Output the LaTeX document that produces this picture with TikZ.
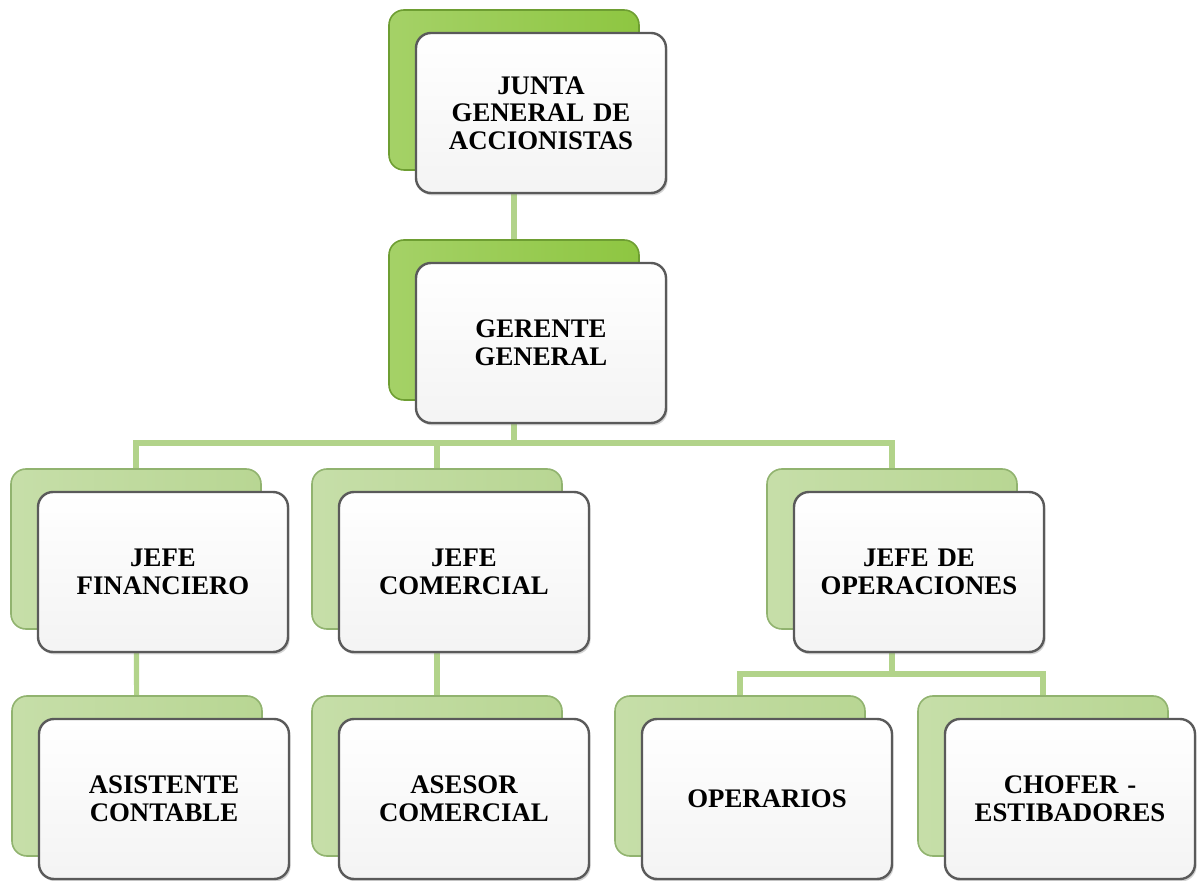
\documentclass[tikz,border=0pt]{standalone}
\usepackage{fontspec}
\setmainfont{Liberation Serif}
\usetikzlibrary{shadows}
\definecolor{conncol}{HTML}{B2D38A}
\definecolor{gstrong}{HTML}{8EC641}
\definecolor{gstrongline}{HTML}{6E9E32}
\definecolor{gsoft}{HTML}{B8D693}
\definecolor{gsoftline}{HTML}{91B36F}
\definecolor{boxline}{HTML}{5A5A5A}
\pgfdeclarelayer{bg}
\pgfsetlayers{bg,main}
\begin{document}
\begin{tikzpicture}[x=0.5pt,y=-0.5pt,
  backbase/.style={rectangle, rounded corners=7.5pt, minimum width=125pt, minimum height=80pt, line width=0.8pt, inner sep=0pt},
  backstrong/.style={backbase, draw=gstrongline, left color=gstrong!80!white, right color=gstrong},
  backsoft/.style={backbase, draw=gsoftline, left color=gsoft!80!white, right color=gsoft},
  frontbox/.style={rectangle, rounded corners=7.5pt, minimum width=125pt, minimum height=80pt,
    draw=boxline, line width=1.2pt, top color=white, bottom color=gray!9,
    drop shadow={shadow xshift=0.8pt, shadow yshift=-1.2pt, opacity=0.35},
    align=center, text width=118pt, font=\fontsize{13.4}{13.8}\selectfont\bfseries},
  conn/.style={draw=conncol, line width=2.6pt}]
\useasboundingbox (0,0) rectangle (1200,881);
% back (green) boxes
\node[backstrong] (jgB)  at (514,90)  {};
\node[backstrong] (ggB)  at (514,320) {};
\node[backsoft]   (jfB)  at (136,549) {};
\node[backsoft]   (jcB)  at (437,549) {};
\node[backsoft]   (joB)  at (892,549) {};
\node[backsoft]   (asB)  at (137,776) {};
\node[backsoft]   (aseB) at (437,776) {};
\node[backsoft]   (opB)  at (740,776) {};
\node[backsoft]   (chB)  at (1043,776) {};
% front boxes
\node[frontbox] (jg)  at (541,113)  {JUNTA\\GENERAL DE\\ACCIONISTAS};
\node[frontbox] (gg)  at (541,343)  {GERENTE\\GENERAL};
\node[frontbox] (jf)  at (163,572)  {JEFE\\FINANCIERO};
\node[frontbox] (jc)  at (464,572)  {JEFE\\COMERCIAL};
\node[frontbox] (jo)  at (919,572)  {JEFE DE\\OPERACIONES};
\node[frontbox] (as)  at (164,799)  {ASISTENTE\\CONTABLE};
\node[frontbox] (ase) at (464,799)  {ASESOR\\COMERCIAL};
\node[frontbox] (op)  at (767,799)  {OPERARIOS};
\node[frontbox] (ch)  at (1070,799) {CHOFER -\\ESTIBADORES};
% connectors
\coordinate (bus1) at (514,443);
\coordinate (bus2) at (892,674);
\begin{pgfonlayer}{bg}
\draw[conn] (jgB.center) -- (ggB.center);
\draw[conn] (ggB.center) -- (bus1);
\draw[conn] (jfB.center) |- (bus1) -| (joB.center);
\draw[conn] (jcB.center) -- (jcB.center |- bus1);
\draw[conn] (jfB.center) -- (asB.center);
\draw[conn] (jcB.center) -- (aseB.center);
\draw[conn] (joB.center) -- (bus2);
\draw[conn] (opB.center) |- (bus2) -| (chB.center);
\end{pgfonlayer}
\end{tikzpicture}
\end{document}
